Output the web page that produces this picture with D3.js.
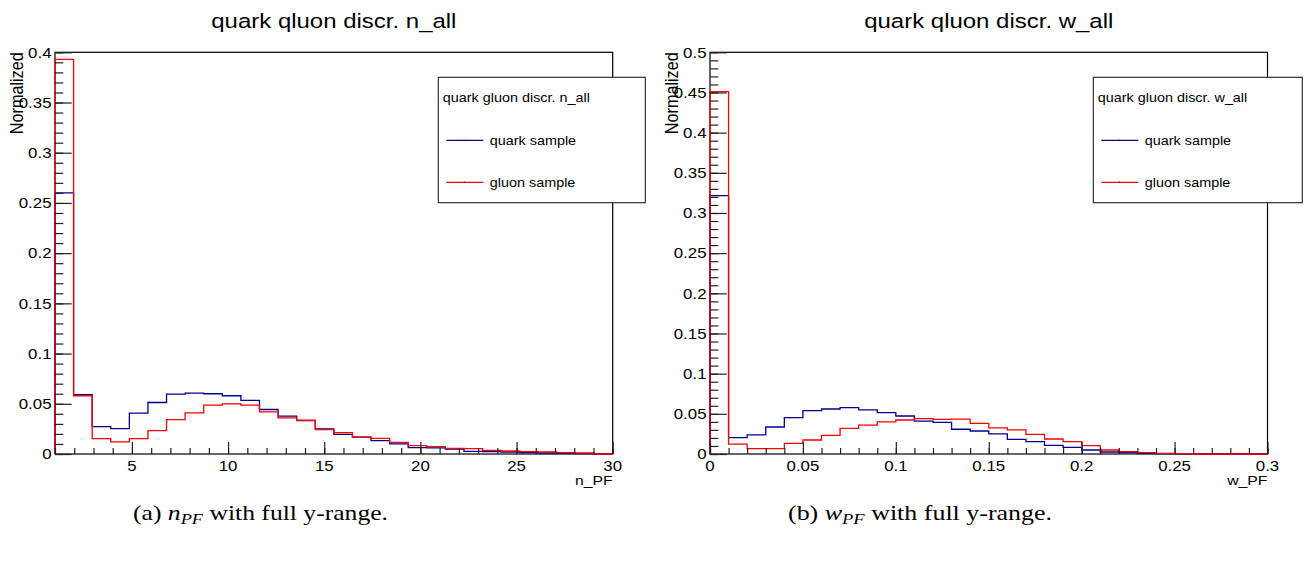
<!DOCTYPE html>
<html>
<head>
<meta charset="utf-8">
<script src="https://cdn.jsdelivr.net/npm/d3@7"></script>
<style>
  body { margin: 0; background: #fff; }
  svg { display: block; }
</style>
</head>
<body>
<svg id="chart" width="1315" height="561"></svg>
<script>
(function () {
    'use strict';

    // bin contents, 30 equal bins per histogram
    var nRange = [1, 30],
        wRange = [0, 0.3];

    var nQuark = [0.26, 0.059, 0.0273, 0.0253, 0.0407, 0.0513, 0.0597, 0.0607, 0.060, 0.058,
                  0.0533, 0.0443, 0.0377, 0.0333, 0.025, 0.0196, 0.0169, 0.0133, 0.010, 0.0063,
                  0.006, 0.005, 0.0027, 0.0023, 0.002, 0.0013, 0.001, 0.0007, 0.0003, 0];
    var nGluon = [0.393, 0.058, 0.0153, 0.012, 0.0153, 0.0233, 0.0343, 0.041, 0.0487, 0.050,
                  0.0487, 0.042, 0.036, 0.0336, 0.0243, 0.0213, 0.0169, 0.0156, 0.0116, 0.0083,
                  0.0073, 0.0056, 0.0053, 0.0037, 0.003, 0.0023, 0.002, 0.0013, 0.001, 0];

    var wQuark = [0.3215, 0.0203, 0.0237, 0.0336, 0.0452, 0.054, 0.056, 0.0577, 0.0548, 0.0515,
                  0.0473, 0.041, 0.0394, 0.0308, 0.0286, 0.025, 0.0183, 0.0154, 0.0108, 0.0083,
                  0.005, 0.0025, 0.0017, 0.0008, 0.0004, 0.0002, 0, 0, 0, 0];
    var wGluon = [0.451, 0.0124, 0.0066, 0.0066, 0.0133, 0.0174, 0.0232, 0.032, 0.036, 0.040,
                  0.0423, 0.044, 0.0432, 0.0434, 0.0381, 0.0326, 0.030, 0.0245, 0.0187, 0.0154,
                  0.0104, 0.005, 0.0029, 0.0017, 0.0008, 0.0004, 0, 0, 0, 0];

    var nXMajor = [5, 10, 15, 20, 25, 30],
        nYMajor = [0, 0.05, 0.1, 0.15, 0.2, 0.25, 0.3, 0.35, 0.4],
        wXMajor = [0, 0.05, 0.1, 0.15, 0.2, 0.25, 0.3],
        wYMajor = [0, 0.05, 0.1, 0.15, 0.2, 0.25, 0.3, 0.35, 0.4, 0.45, 0.5];

    var seriesNames = ['quark sample', 'gluon sample'],
        seriesColors = ['#00008f', '#ff0000'];

    var panels = [
        {
            title: 'quark qluon discr. n_all', legendTitle: 'quark gluon discr. n_all',
            xTitle: 'n_PF', xRange: nRange, yMax: 0.4,
            xMajor: nXMajor, xMinorStep: 1, yMajor: nYMajor,
            series: [nQuark, nGluon], fmt: d3.format('~g'),
            caption: ['(a) ', 'n', 'PF', ' with full y-range.'],
            left: 55, right: 612.7, legX: 438.3, legW: 207, capX: 133, capW: 255
        },
        {
            title: 'quark qluon discr. w_all', legendTitle: 'quark gluon discr. w_all',
            xTitle: 'w_PF', xRange: wRange, yMax: 0.5,
            xMajor: wXMajor, xMinorStep: 0.01, yMajor: wYMajor,
            series: [wQuark, wGluon], fmt: d3.format('~g'),
            caption: ['(b) ', 'w', 'PF', ' with full y-range.'],
            left: 710, right: 1267.5, legX: 1093.3, legW: 209, capX: 788, capW: 264
        }
    ];

    var top = 52.3, bottom = 454, SX = 1.17,
        font = '"Liberation Sans", Arial, Helvetica, sans-serif';

    var svg = d3.select('#chart');

    // root-like text, stretched horizontally like the picture
    function label(g, x, y, str, size, anchor) {
        return g.append('text')
            .attr('transform', 'translate(' + x + ',' + y + ') scale(' + SX + ',1)')
            .attr('font-family', font)
            .attr('font-size', size)
            .attr('text-anchor', anchor || 'start')
            .attr('fill', '#000')
            .text(str);
    }

    panels.forEach(function (p) {
        var g = svg.append('g');

        var x = d3.scaleLinear().domain(p.xRange).range([p.left, p.right]),
            y = d3.scaleLinear().domain([0, p.yMax]).range([bottom, top]);

        var nb = p.series[0].length,
            edges = d3.range(nb + 1).map(function (i) {
                return p.xRange[0] + (p.xRange[1] - p.xRange[0]) * i / nb;
            });

        // frame
        g.append('rect')
            .attr('x', p.left).attr('y', top)
            .attr('width', p.right - p.left).attr('height', bottom - top)
            .attr('fill', 'none').attr('stroke', '#000').attr('stroke-width', 1.2);

        // histograms
        p.series.forEach(function (vals, si) {
            var path = d3.path();
            path.moveTo(x(edges[0]), y(0));
            vals.forEach(function (v, i) {
                path.lineTo(x(edges[i]), y(v));
                path.lineTo(x(edges[i + 1]), y(v));
            });
            path.lineTo(x(edges[nb]), y(0));
            g.append('path')
                .attr('d', path.toString())
                .attr('fill', 'none')
                .attr('stroke', seriesColors[si])
                .attr('stroke-width', 1.3);
        });

        // x axis ticks (inside, pointing up)
        var xMinor = d3.range(p.xRange[0], p.xRange[1] + p.xMinorStep / 2, p.xMinorStep);
        var xAxisMinor = d3.axisBottom(x).tickValues(xMinor).tickSize(-6).tickFormat('');
        var xAxisMajor = d3.axisBottom(x).tickValues(p.xMajor).tickSize(-12).tickFormat('');
        [xAxisMinor, xAxisMajor].forEach(function (ax) {
            var a = g.append('g').attr('transform', 'translate(0,' + bottom + ')').call(ax);
            a.select('.domain').remove();
            a.selectAll('line').attr('stroke', '#222').attr('stroke-width', 1.2);
        });
        p.xMajor.forEach(function (t) {
            label(g, x(t), 470.5, p.fmt(t), 14.4, 'middle');
        });
        label(g, p.right, 484.5, p.xTitle, 13.5, 'end');

        // y axis ticks (inside, pointing right)
        var yMinor = d3.range(0, Math.round(p.yMax * 100) + 1).map(function (i) { return i / 100; });
        var yAxisMinor = d3.axisLeft(y).tickValues(yMinor).tickSize(-8.3).tickFormat('');
        var yAxisMajor = d3.axisLeft(y).tickValues(p.yMajor).tickSize(-16.7).tickFormat('');
        [yAxisMinor, yAxisMajor].forEach(function (ax) {
            var a = g.append('g').attr('transform', 'translate(' + p.left + ',0)').call(ax);
            a.select('.domain').remove();
            a.selectAll('line').attr('stroke', '#222').attr('stroke-width', 1.2);
        });
        p.yMajor.forEach(function (t) {
            label(g, p.left - 3.5, y(t) + 5.2, p.fmt(t), 14.4, 'end');
        });

        // rotated y title
        g.append('text')
            .attr('transform', 'translate(' + (p.left - 32) + ',' + top + ') rotate(-90) scale(1,' + SX + ')')
            .attr('font-family', font)
            .attr('font-size', 16.2)
            .attr('text-anchor', 'end')
            .text('Normalized');

        // title
        label(g, (p.left + p.right) / 2, 27.5, p.title, 20.5, 'middle');

        // legend
        var lg = g.append('g');
        lg.append('rect')
            .attr('x', p.legX).attr('y', 77.3)
            .attr('width', p.legW).attr('height', 125.4)
            .attr('fill', '#fff').attr('stroke', '#222').attr('stroke-width', 1.1);
        label(lg, p.legX + 4.5, 101.5, p.legendTitle, 12.3, 'start');
        [140.3, 182.3].forEach(function (ly, si) {
            lg.append('line')
                .attr('x1', p.legX + 8).attr('x2', p.legX + 45)
                .attr('y1', ly).attr('y2', ly)
                .attr('stroke', seriesColors[si]).attr('stroke-width', 1.2);
            lg.append('rect')
                .attr('x', p.legX + 25.5).attr('y', ly - 0.6)
                .attr('width', 1.2).attr('height', 1.2).attr('fill', '#000');
            label(lg, p.legX + 51.5, ly + 4.2, seriesNames[si], 12.3, 'start');
        });

        // caption (LaTeX style)
        var cap = g.append('text')
            .attr('x', p.capX).attr('y', 520)
            .attr('font-family', '"Liberation Serif", "DejaVu Serif", serif')
            .attr('font-size', 21)
            .attr('textLength', p.capW)
            .attr('lengthAdjust', 'spacingAndGlyphs');
        cap.append('tspan').text(p.caption[0]);
        cap.append('tspan').attr('font-style', 'italic').text(p.caption[1]);
        cap.append('tspan').attr('font-style', 'italic').attr('font-size', 15).attr('dy', 4).text(p.caption[2]);
        cap.append('tspan').attr('dy', -4).text(p.caption[3]);
    });
}());
</script>
</body>
</html>
